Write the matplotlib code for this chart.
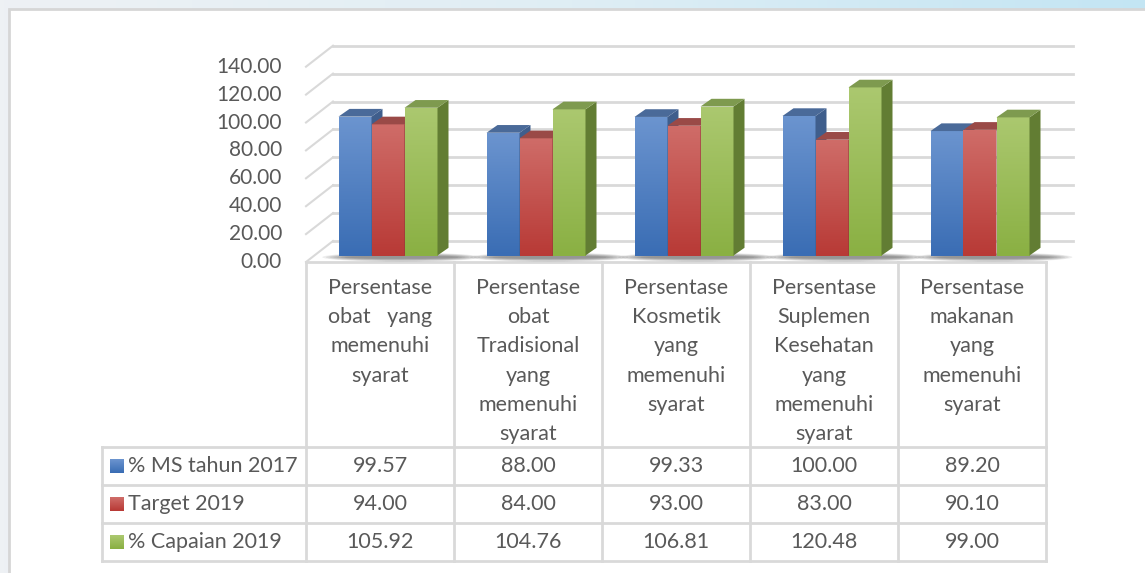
import matplotlib
matplotlib.use("Agg")
import matplotlib.pyplot as plt
import numpy as np
from matplotlib.colors import LinearSegmentedColormap
from matplotlib.patches import Polygon, Rectangle, Ellipse
from matplotlib.transforms import offset_copy, blended_transform_factory

CATEGORIES = [
    "Persentase\nobat   yang\nmemenuhi\nsyarat",
    "Persentase\nobat\nTradisional\nyang\nmemenuhi\nsyarat",
    "Persentase\nKosmetik\nyang\nmemenuhi\nsyarat",
    "Persentase\nSuplemen\nKesehatan\nyang\nmemenuhi\nsyarat",
    "Persentase\nmakanan\nyang\nmemenuhi\nsyarat",
]
SERIES = ["% MS tahun 2017", "Target 2019", "% Capaian 2019"]
MS_2017 = [99.57, 88.00, 99.33, 100.00, 89.20]
TARGET_2019 = [94.00, 84.00, 93.00, 83.00, 90.10]
CAPAIAN_2019 = [105.92, 104.76, 106.81, 120.48, 99.00]
Y_TICKS = [0, 20, 40, 60, 80, 100, 120, 140]

VALUES = [MS_2017, TARGET_2019, CAPAIAN_2019]
# (dark bottom, light top, top face, side face)
COLORS = [
    ("#3a6db4", "#6b94cf", "#4a6a99", "#3f5e8c"),
    ("#b83a36", "#cf6c68", "#9a4a47", "#8d3a37"),
    ("#8ab043", "#abc86f", "#7e9a4f", "#627d33"),
]
TEXT = "#595959"
GRID = "#d9d9d9"

plt.rcParams["font.family"] = ["Lato", "DejaVu Sans"]
plt.rcParams["font.size"] = 15.5

W, H = 1145, 573
fig = plt.figure(figsize=(W / 100, H / 100), dpi=100)

# background layer in pixel coords
bg = fig.add_axes([0, 0, 1, 1], zorder=0)
bg.set_xlim(0, W)
bg.set_ylim(H, 0)
bg.axis("off")
grad = LinearSegmentedColormap.from_list("bgg", ["#eef1f4", "#dfeef5", "#c3e5f3"])
bg.imshow(np.linspace(0, 1, 256).reshape(1, -1), extent=(0, W, H, 0), cmap=grad, aspect="auto")
bg.add_patch(Rectangle((9, 9), W + 20, H + 20, facecolor="white", edgecolor="#d6d6d6", lw=2))

# front plane of the plot: x -0.5..4.5 -> 306..1046 px, y 0..140 -> 262..66.7 px
PX_PER_UNIT = 1.395
ax = fig.add_axes([306 / W, 1 - 262 / H, 740 / W, 140 * PX_PER_UNIT / H], zorder=1)
ax.set_xlim(-0.5, 4.5)
ax.set_ylim(0, 140)
ax.axis("off")

DX_PX = 1 / 148.0
DY_PX = 1 / PX_PER_UNIT
FX, FY = 27 * DX_PX, 21 * DY_PX        # floor / wall depth
BX0, BY0 = 8 * DX_PX, 6.5 * DY_PX      # bar front offset from front plane
BDX, BDY = 11 * DX_PX, 7.7 * DY_PX     # bar depth
BW = 33 * DX_PX

# back wall gridlines and side wall diagonals
for v in Y_TICKS:
    ax.plot([-0.5 + FX, 4.5 + FX], [v + FY, v + FY], color=GRID, lw=2, clip_on=False, zorder=1)
    ax.plot([-0.5, -0.5 + FX], [v, v + FY], color=GRID, lw=1.5, clip_on=False, zorder=1)
    ax.text(-0.5, v, f"{v:.2f}", transform=offset_copy(ax.transData, fig, x=-24, y=0, units="dots"),
            ha="right", va="center", color=TEXT, fontsize=15)

# bars
n = 0
for i in range(len(CATEGORIES)):
    left0 = i - 1.5 * BW + BX0
    # soft shadow under the group, heavier to the right
    for s in range(7):
        ax.add_patch(Ellipse((i + BX0 + 0.09, BY0 - 1.2), 3 * BW + 0.40 - s * 0.05, 6.5 - s * 0.7,
                             facecolor="black", edgecolor="none", alpha=0.07, zorder=2, clip_on=False))
    for k in range(3):
        h = VALUES[k][i]
        l = left0 + k * BW
        dark, light, topc, sidec = COLORS[k]
        z = 3 + n * 0.01
        n += 1
        cm = LinearSegmentedColormap.from_list(f"c{k}", [dark, light])
        front = Rectangle((l, BY0), BW, h, facecolor="none", edgecolor="none")
        ax.add_patch(front)
        im = ax.imshow(np.linspace(0, 1, 64).reshape(-1, 1), extent=(l, l + BW, BY0, BY0 + h),
                       origin="lower", cmap=cm, aspect="auto", zorder=z)
        im.set_clip_path(front)
        ax.add_patch(Polygon([(l + BW, BY0), (l + BW + BDX, BY0 + BDY), (l + BW + BDX, BY0 + h + BDY),
                              (l + BW, BY0 + h)], closed=True, facecolor=sidec, edgecolor="none", zorder=z))
        ax.add_patch(Polygon([(l, BY0 + h), (l + BW, BY0 + h), (l + BW + BDX, BY0 + h + BDY),
                              (l + BDX, BY0 + h + BDY)], closed=True, facecolor=topc, edgecolor="none",
                             zorder=z, clip_on=False))
ax.set_xlim(-0.5, 4.5)
ax.set_ylim(0, 140)

# data table
TOP, CAT_BOTTOM, BOTTOM = 262, 447, 561
ROW_LINES = [447, 485, 523, 561]
LEFT = 102
bg.plot([306, 1046], [TOP, TOP], color=GRID, lw=2)
for y in ROW_LINES:
    bg.plot([LEFT, 1046], [y, y], color=GRID, lw=2)
bg.plot([LEFT, LEFT], [CAT_BOTTOM, BOTTOM], color=GRID, lw=2)
trans = blended_transform_factory(ax.transData, bg.transData)
for b in np.arange(-0.5, len(CATEGORIES)):
    ax.plot([b, b], [TOP, BOTTOM], transform=trans, color=GRID, lw=2, clip_on=False)

for i, cat in enumerate(CATEGORIES):
    ax.text(i, 278, cat, transform=trans, ha="center", va="top", color=TEXT, linespacing=1.575)

for k, name in enumerate(SERIES):
    yc = (ROW_LINES[k] + ROW_LINES[k + 1]) / 2
    dark, light = COLORS[k][0], COLORS[k][1]
    cm = LinearSegmentedColormap.from_list(f"l{k}", [light, dark])
    bg.imshow(np.linspace(0, 1, 16).reshape(-1, 1), extent=(110, 124, yc + 7, yc - 7),
              origin="upper", cmap=cm, aspect="auto", zorder=3)
    bg.text(128, yc, name, ha="left", va="center", color=TEXT)
    for i, v in enumerate(VALUES[k]):
        ax.text(i, yc, f"{v:.2f}", transform=trans, ha="center", va="center", color=TEXT)
bg.set_xlim(0, W)
bg.set_ylim(H, 0)

fig.savefig("out.png", dpi=100)
